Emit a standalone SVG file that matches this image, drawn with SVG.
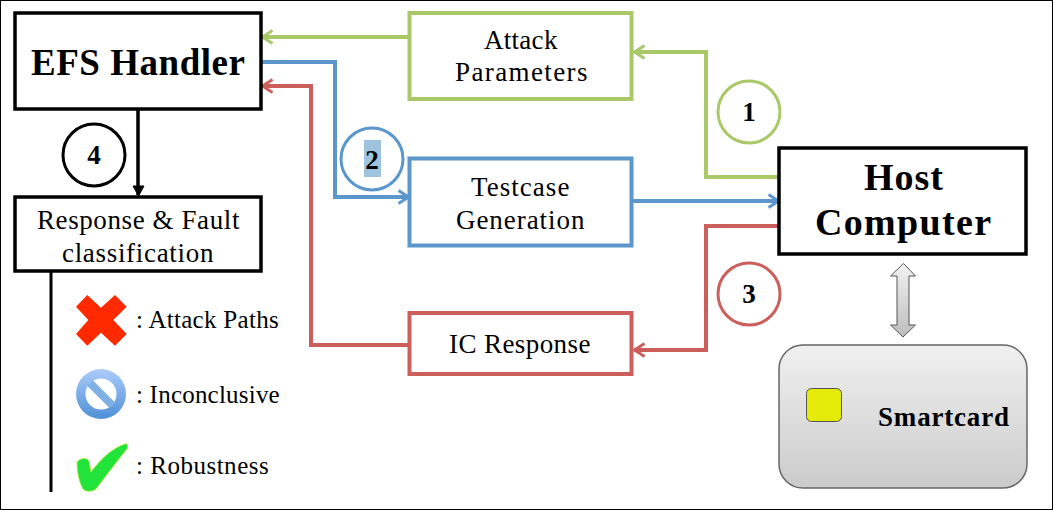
<svg xmlns="http://www.w3.org/2000/svg" width="1053" height="510" viewBox="0 0 1053 510">
<style>
text{font-family:"Liberation Serif","DejaVu Serif",serif;fill:#000;text-anchor:middle}
.b{fill:#fff;stroke:#000;stroke-width:3.5}
.lab{font-size:27px;letter-spacing:.6px}
.leg{font-size:25px;text-anchor:start;letter-spacing:.3px}
.num{font-size:27px;font-weight:bold}
.g{stroke:#a9c868}.u{stroke:#5b96cc}.r{stroke:#cc5f5b}
.c{fill:none;stroke-width:4}
</style>
<defs>
<marker id="ag" markerUnits="userSpaceOnUse" markerWidth="14" markerHeight="16" refX="12.5" refY="8" orient="auto"><path d="M2 1.5 12 8 2 14.500" fill="none" stroke="#a9c868" stroke-width="3"/></marker>
<marker id="au" markerUnits="userSpaceOnUse" markerWidth="14" markerHeight="16" refX="12.5" refY="8" orient="auto"><path d="M2 1.5 12 8 2 14.500" fill="none" stroke="#5b96cc" stroke-width="3"/></marker>
<marker id="ar" markerUnits="userSpaceOnUse" markerWidth="14" markerHeight="16" refX="12.5" refY="8" orient="auto"><path d="M2 1.5 12 8 2 14.500" fill="none" stroke="#cc5f5b" stroke-width="3"/></marker>
<linearGradient id="card" x1="0" y1="0" x2="0" y2="1"><stop offset="0" stop-color="#f0f0f0"/><stop offset="1" stop-color="#cbcbcb"/></linearGradient>
<linearGradient id="dbl" x1="0" y1="0" x2="0" y2="1"><stop offset="0" stop-color="#f2f2f2"/><stop offset="1" stop-color="#bdbdbd"/></linearGradient>
<linearGradient id="ban" x1="0" y1="0" x2="0" y2="1"><stop offset="0" stop-color="#acccfb"/><stop offset="1" stop-color="#4f90d6"/></linearGradient>
</defs>
<rect x=".5" y=".5" width="1052" height="509" fill="#fff" stroke="#000"/>

<g id="connectors">
<path class="c g" d="M409 37H262" marker-end="url(#ag)"/>
<path class="c g" d="M779 177H706V52H634" marker-end="url(#ag)"/>
<path class="c u" d="M261 62H335V197H409" marker-end="url(#au)"/>
<path class="c u" d="M632 201H779" marker-end="url(#au)"/>
<path class="c r" d="M409 345H311V86H262" marker-end="url(#ar)"/>
<path class="c r" d="M779 226H706V350H634" marker-end="url(#ar)"/>
<path d="M138 110V195" fill="none" stroke="#000" stroke-width="3.500"/>
<path d="M133 186H144L138.500 196Z" stroke="#000"/>
<path d="M51 272V492" fill="none" stroke="#000" stroke-width="3"/>
<path d="M903.500 263.500 915.500 276H909V325H915.500L903 337 890.500 325H897V276H890.500Z" fill="url(#dbl)" stroke="#555" stroke-width="1"/>
</g>

<g id="efs-handler"><rect class="b" x="15" y="13" width="246" height="96"/><text x="138" y="75" font-size="37" font-weight="bold" textLength="214">EFS Handler</text></g>
<g id="attack-parameters"><rect x="409.500" y="13" width="222" height="86" class="c g" style="fill:#fff"/><text class="lab" x="521" y="49" textLength="74">Attack</text><text class="lab" x="521.500" y="81" textLength="133">Parameters</text></g>
<g id="testcase-generation"><rect x="409.500" y="158.500" width="222" height="87" class="c u" style="fill:#fff"/><text class="lab" x="520.500" y="196" textLength="99">Testcase</text><text class="lab" x="520.500" y="229" textLength="129">Generation</text></g>
<g id="ic-response"><rect x="409.500" y="313" width="222" height="61" class="c r" style="fill:#fff"/><text class="lab" x="520" y="353" textLength="142">IC Response</text></g>
<g id="host-computer"><rect class="b" x="779" y="148" width="247" height="106"/><text x="903.500" y="190" font-size="38" font-weight="bold" textLength="79">Host</text><text x="903" y="235" font-size="38" font-weight="bold" textLength="176">Computer</text></g>
<g id="response-classification"><rect class="b" x="15" y="197" width="246" height="74"/><text class="lab" x="138.500" y="229" textLength="203">Response &amp; Fault</text><text class="lab" x="138" y="262" textLength="152">classification</text></g>

<g id="step-1"><circle cx="749" cy="112" r="31" fill="#fff" stroke="#a9c868" stroke-width="3"/><text class="num" x="749" y="121">1</text></g>
<g id="step-2"><circle cx="372" cy="159" r="31" fill="#fff" stroke="#5b96cc" stroke-width="3"/><rect x="364" y="140" width="17" height="37" fill="#9dc3de"/><text class="num" x="372" y="169">2</text></g>
<g id="step-3"><circle cx="749" cy="294" r="31" fill="#fff" stroke="#cc5f5b" stroke-width="3"/><text class="num" x="749" y="303">3</text></g>
<g id="step-4"><circle cx="94" cy="155" r="31" fill="#fff" stroke="#000" stroke-width="3"/><text class="num" x="94" y="164">4</text></g>

<g id="legend-attack"><path d="M87.300 295 101 307.700 115 295 126.700 306.700 113.300 320 126.700 334 115 345.700 101 332.700 87.300 345.700 76 334 88.300 320 76 306.700Z" fill="#ff2a00"/><text class="leg" x="136" y="328" textLength="143">: Attack Paths</text></g>
<g id="legend-inconclusive"><circle cx="101" cy="394" r="25" fill="url(#ban)"/><circle cx="101" cy="394" r="15.500" fill="#fff"/><path d="M90 383 112 405" stroke="#7fb0e6" stroke-width="8"/><text class="leg" x="136" y="403" textLength="144">: Inconclusive</text></g>
<g id="legend-robustness"><path d="M77 462C80 458 87 457 89 461L91 472C100 460 112 448 125 444 128 443 128 447 127 449 116 462 106 476 96 489 92 492 85 492 83 489 79 482 77 472 77 462Z" fill="#22e33a" stroke="#b6e83a" stroke-width=".8"/><text class="leg" x="136" y="474" textLength="133">: Robustness</text></g>

<g id="smartcard"><rect x="779" y="345" width="248" height="143" rx="24" fill="url(#card)" stroke="#666" stroke-width="1.500"/><rect x="806.500" y="388.500" width="35" height="33" rx="5" fill="#e5eb08" stroke="#555" stroke-width="1"/><text x="943.500" y="426" font-size="27" font-weight="bold" textLength="131">Smartcard</text></g>
</svg>
